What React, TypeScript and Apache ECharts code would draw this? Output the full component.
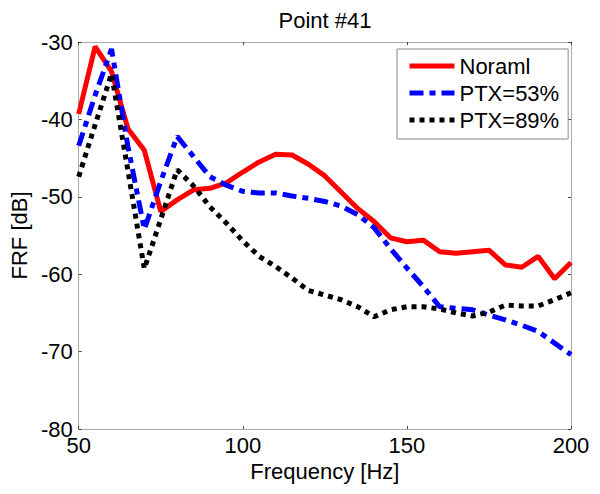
import React, { useEffect, useRef } from "react";
import * as echarts from "echarts";

const frequencies = [50, 55, 60, 65, 70, 75, 80, 85, 90, 95, 100, 105, 110, 115, 120, 125, 130, 135, 140, 145, 150, 155, 160, 165, 170, 175, 180, 185, 190, 195, 200];

const normalValues = [-39.3, -30.6, -33.8, -41.2, -44.0, -51.9, -50.4, -49.1, -48.9, -48.2, -46.8, -45.5, -44.5, -44.6, -45.8, -47.3, -49.4, -51.5, -53.2, -55.3, -55.8, -55.6, -57.1, -57.3, -57.1, -56.9, -58.8, -59.1, -57.7, -60.6, -58.5];

const ptx53Values = [-43.4, -36.9, -30.9, -43.5, -54.2, -48.0, -42.2, -44.8, -47.4, -48.5, -49.3, -49.5, -49.5, -49.9, -50.2, -50.6, -51.2, -52.3, -54.0, -56.7, -59.2, -61.6, -64.2, -64.4, -64.6, -65.3, -65.9, -66.6, -67.4, -68.9, -70.4];

const ptx89Values = [-47.4, -40.7, -34.1, -46.6, -59.3, -52.9, -46.5, -48.6, -51.3, -53.4, -55.7, -57.7, -59.0, -60.5, -62.1, -62.7, -63.3, -64.2, -65.5, -64.6, -64.2, -64.2, -64.5, -65.0, -65.4, -64.9, -64.0, -64.1, -64.1, -63.3, -62.4];

const seriesNames = ["Noraml", "PTX=53%", "PTX=89%"];
const titleText = "Point #41";
const xAxisName = "Frequency [Hz]";
const yAxisName = "FRF [dB]";

const FONT = "Liberation Sans, Arial, sans-serif";
const FS = 22;

export default function App() {
  const ref = useRef<HTMLDivElement>(null);

  useEffect(() => {
    document.body.style.margin = "0";
    if (!ref.current) return;
    const chart = echarts.init(ref.current, null, { renderer: "svg" });
    const pair = (vals: number[]) => frequencies.map((f, i) => [f, vals[i]]);
    const axisLineColor = "#aaaaaa";
    const tickStyle = { inside: true, length: 3, lineStyle: { color: "#444", width: 1 } };

    chart.setOption({
      animation: false,
      backgroundColor: "#ffffff",
      title: {
        text: titleText,
        left: 320,
        top: 4,
        textAlign: "center",
        textStyle: { fontFamily: FONT, fontSize: FS, fontWeight: "normal", color: "#000" },
      },
      grid: { left: 75, right: 29, top: 42, bottom: 65, containLabel: false },
      legend: {
        orient: "vertical",
        left: 397,
        top: 49,
        backgroundColor: "#ffffff",
        borderColor: "#888888",
        borderWidth: 1,
        padding: [6, 9, 8, 10],
        itemGap: 5,
        itemWidth: 45,
        itemHeight: 22,
        itemStyle: { opacity: 0 },
        lineStyle: { width: 5 },
        textStyle: { fontFamily: FONT, fontSize: FS, color: "#000" },
        data: seriesNames,
      },
      xAxis: [
        {
          type: "value",
          min: 50,
          max: 200,
          interval: 50,
          name: xAxisName,
          nameLocation: "middle",
          nameGap: 30,
          nameTextStyle: { fontFamily: FONT, fontSize: FS, color: "#000" },
          axisLine: { show: true, onZero: false, lineStyle: { color: axisLineColor, width: 1 } },
          axisTick: tickStyle,
          axisLabel: { fontFamily: FONT, fontSize: FS, color: "#000", margin: 5 },
          splitLine: { show: false },
        },
        {
          type: "value",
          position: "top",
          min: 50,
          max: 200,
          interval: 50,
          axisLine: { show: true, onZero: false, lineStyle: { color: axisLineColor, width: 1 } },
          axisTick: tickStyle,
          axisLabel: { show: false },
          splitLine: { show: false },
        },
      ],
      yAxis: [
        {
          type: "value",
          min: -80,
          max: -30,
          interval: 10,
          name: yAxisName,
          nameLocation: "middle",
          nameGap: 46,
          nameTextStyle: { fontFamily: FONT, fontSize: FS, color: "#000" },
          axisLine: { show: true, onZero: false, lineStyle: { color: axisLineColor, width: 1 } },
          axisTick: tickStyle,
          axisLabel: { fontFamily: FONT, fontSize: FS, color: "#000", margin: 6 },
          splitLine: { show: false },
        },
        {
          type: "value",
          position: "right",
          min: -80,
          max: -30,
          interval: 10,
          axisLine: { show: true, onZero: false, lineStyle: { color: axisLineColor, width: 1 } },
          axisTick: tickStyle,
          axisLabel: { show: false },
          splitLine: { show: false },
        },
      ],
      series: [
        {
          name: seriesNames[0],
          type: "line",
          data: pair(normalValues),
          symbol: "none",
          color: "#ff0000",
          lineStyle: { color: "#ff0000", width: 5, type: "solid" },
        },
        {
          name: seriesNames[1],
          type: "line",
          data: pair(ptx53Values),
          symbol: "none",
          color: "#0000ff",
          lineStyle: { color: "#0000ff", width: 5, type: [14, 6, 6, 6], cap: "butt" },
        },
        {
          name: seriesNames[2],
          type: "line",
          data: pair(ptx89Values),
          symbol: "none",
          color: "#000000",
          lineStyle: { color: "#000000", width: 5, type: [5, 5], cap: "butt" },
        },
      ],
    });

    return () => chart.dispose();
  }, []);

  return <div ref={ref} style={{ width: 600, height: 494 }} />;
}
